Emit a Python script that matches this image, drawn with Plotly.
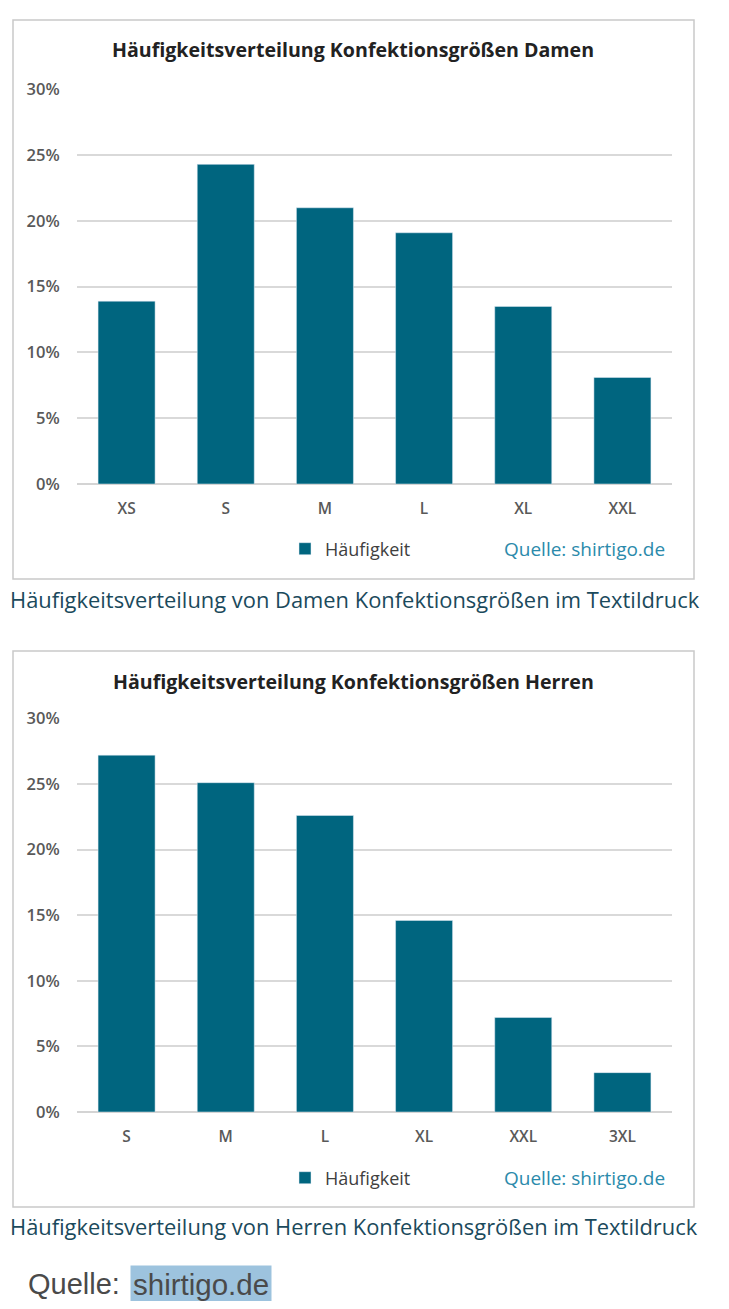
import plotly.graph_objects as go

# ---- data ----
damen_sizes = ["XS", "S", "M", "L", "XL", "XXL"]
damen_values = [13.9, 24.3, 21.0, 19.1, 13.5, 8.1]
herren_sizes = ["S", "M", "L", "XL", "XXL", "3XL"]
herren_values = [27.2, 25.1, 22.6, 14.6, 7.2, 3.0]
y_ticks = [0, 5, 10, 15, 20, 25, 30]
y_tick_labels = ["0%", "5%", "10%", "15%", "20%", "25%", "30%"]
series_name = "Häufigkeit"
title_damen = "Häufigkeitsverteilung Konfektionsgrößen Damen"
title_herren = "Häufigkeitsverteilung Konfektionsgrößen Herren"
caption_damen = "Häufigkeitsverteilung von Damen Konfektionsgrößen im Textildruck"
caption_herren = "Häufigkeitsverteilung von Herren Konfektionsgrößen im Textildruck"
source_text = "Quelle: shirtigo.de"

PAGE_MARGIN = 8
FW, FH = 729 - 2 * PAGE_MARGIN, 1309 - 2 * PAGE_MARGIN
BAR = "#00657f"
TEAL = "#2b8aab"
CAP = "#1b4a5c"
CFONT = "Open Sans"


def px(x):
    return (x - PAGE_MARGIN) / FW


def py(y):
    return 1 - (y - PAGE_MARGIN) / FH


fig = go.Figure()
fig.add_trace(go.Bar(x=damen_sizes, y=damen_values, name=series_name,
                     marker_color=BAR, width=0.575, xaxis="x", yaxis="y",
                     legend="legend"))
fig.add_trace(go.Bar(x=herren_sizes, y=herren_values, name=series_name,
                     marker_color=BAR, width=0.575, xaxis="x2", yaxis="y2",
                     legend="legend2"))

yax = dict(range=[0, 30.03], tickvals=y_ticks, ticktext=y_tick_labels,
           showgrid=True, gridcolor="#d9d9d9", gridwidth=1.5,
           zeroline=True, zerolinecolor="#d4d4d4", zerolinewidth=2,
           ticks="outside", ticklen=13, tickcolor="rgba(0,0,0,0)",
           tickfont=dict(family=CFONT, size=16.5, color="#595959", weight=600),
           fixedrange=True)
xax = dict(showgrid=False, ticks="outside", ticklen=10,
           tickcolor="rgba(0,0,0,0)", showline=False,
           tickfont=dict(family=CFONT, size=15.5, color="#595959", weight=600))

legfont = dict(family=CFONT, size=18, color="#404040")
fig.update_layout(
    width=FW, height=FH,
    margin=dict(l=0, r=0, t=0, b=0, autoexpand=False),
    paper_bgcolor="white", plot_bgcolor="white",
    xaxis=dict(domain=[px(77), px(672)], anchor="y", **xax),
    yaxis=dict(domain=[py(484), py(89)], anchor="x", **yax),
    xaxis2=dict(domain=[px(77), px(672)], anchor="y2", **xax),
    yaxis2=dict(domain=[py(1112), py(718)], anchor="x2", **yax),
    legend=dict(x=px(285), y=py(549), xanchor="left", yanchor="middle",
                font=legfont, bgcolor="rgba(0,0,0,0)", itemwidth=30),
    legend2=dict(x=px(285), y=py(1178), xanchor="left", yanchor="middle",
                 font=legfont, bgcolor="rgba(0,0,0,0)", itemwidth=30),
    showlegend=True,
)

# chart frames
for top, bot in [(20, 579), (651, 1207)]:
    fig.add_shape(type="rect", xref="paper", yref="paper",
                  x0=px(13), x1=px(694), y0=py(bot), y1=py(top),
                  line=dict(color="#c9c9c9", width=1.5), layer="below")

ann = []
for title, ty in [(title_damen, 50), (title_herren, 681)]:
    ann.append(dict(text="<b>%s</b>" % title, x=px(353), y=py(ty),
                    xref="paper", yref="paper", showarrow=False,
                    xanchor="center", yanchor="middle",
                    font=dict(family=CFONT, size=19.6, color="#222222")))
for sy in [549, 1178]:
    ann.append(dict(text=source_text, x=px(667), y=py(sy), xref="paper",
                    yref="paper", showarrow=False, xanchor="right",
                    yanchor="middle",
                    font=dict(family=CFONT, size=19, color=TEAL)))
for cap, cy in [(caption_damen, 599), (caption_herren, 1226)]:
    ann.append(dict(text=cap, x=px(8), y=py(cy), xref="paper", yref="paper",
                    showarrow=False, xanchor="left", yanchor="middle",
                    font=dict(family=CFONT, size=21.9, color=CAP)))
src_label, src_link = source_text.split(" ", 1)
ann.append(dict(text=src_label, x=px(26), y=py(1284), xref="paper",
                yref="paper", showarrow=False, xanchor="left",
                yanchor="middle",
                font=dict(family="Liberation Sans", size=29, color="#4a4a4a")))
ann.append(dict(text=src_link, x=px(130), y=py(1284), xref="paper",
                yref="paper", showarrow=False, xanchor="left",
                yanchor="middle", bgcolor="#9dc3de", borderpad=2,
                font=dict(family="Liberation Sans", size=29.5, color="#4a4a4a")))
fig.update_layout(annotations=ann)

fig.write_html("out.html")
